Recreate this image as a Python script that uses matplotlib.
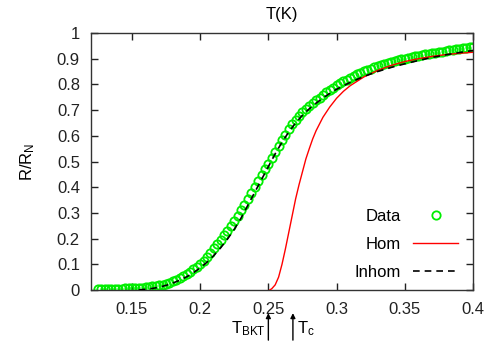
import matplotlib
matplotlib.use("Agg")
import matplotlib.pyplot as plt

plt.rcParams['font.family'] = ['Liberation Sans', 'DejaVu Sans']
plt.rcParams['mathtext.fontset'] = 'custom'
plt.rcParams['mathtext.rm'] = 'Liberation Sans'
plt.rcParams['mathtext.it'] = 'Liberation Sans'

# Data (green circles)
data_T = [0.125, 0.1275, 0.130, 0.1325, 0.135, 0.1375, 0.140, 0.1425, 0.145, 0.1475,
          0.150, 0.1525, 0.155, 0.1575, 0.160, 0.1625, 0.165, 0.1675, 0.170, 0.1725,
          0.175, 0.1775, 0.180, 0.1825, 0.185, 0.1875, 0.190, 0.1925, 0.195, 0.1975,
          0.200, 0.2025, 0.205, 0.2075, 0.210, 0.2125, 0.215, 0.2175, 0.220, 0.2225,
          0.225, 0.2275, 0.230, 0.2325, 0.235, 0.2375, 0.240, 0.2425, 0.245, 0.2475,
          0.250, 0.2525, 0.255, 0.2575, 0.260, 0.2625, 0.265, 0.2675, 0.270, 0.2725,
          0.275, 0.2775, 0.280, 0.2825, 0.285, 0.2875, 0.290, 0.2925, 0.295, 0.2975,
          0.300, 0.3025, 0.305, 0.3075, 0.310, 0.3125, 0.315, 0.3175, 0.320, 0.3225,
          0.325, 0.3275, 0.330, 0.3325, 0.335, 0.3375, 0.340, 0.3425, 0.345, 0.3475,
          0.350, 0.3525, 0.355, 0.3575, 0.360, 0.3625, 0.365, 0.3675, 0.370, 0.3725,
          0.375, 0.3775, 0.380, 0.3825, 0.385, 0.3875, 0.390, 0.3925, 0.395, 0.3975,
          0.400]
data_R = [0.005, 0.005, 0.005, 0.005, 0.005, 0.005, 0.005, 0.005, 0.006, 0.006,
          0.007, 0.007, 0.008, 0.009, 0.010, 0.012, 0.014, 0.016, 0.018, 0.021,
          0.025, 0.029, 0.034, 0.040, 0.047, 0.054, 0.062, 0.071, 0.080, 0.090,
          0.101, 0.114, 0.128, 0.145, 0.163, 0.178, 0.195, 0.213, 0.231, 0.250,
          0.269, 0.289, 0.310, 0.332, 0.354, 0.377, 0.400, 0.423, 0.446, 0.469,
          0.492, 0.515, 0.538, 0.561, 0.583, 0.605, 0.626, 0.645, 0.662, 0.678,
          0.692, 0.705, 0.717, 0.728, 0.739, 0.749, 0.759, 0.769, 0.778, 0.787,
          0.796, 0.804, 0.812, 0.819, 0.826, 0.833, 0.839, 0.845, 0.851, 0.856,
          0.861, 0.866, 0.871, 0.875, 0.879, 0.883, 0.887, 0.891, 0.894, 0.897,
          0.900, 0.903, 0.906, 0.909, 0.912, 0.914, 0.917, 0.919, 0.921, 0.924,
          0.926, 0.928, 0.930, 0.932, 0.934, 0.936, 0.938, 0.940, 0.942, 0.944,
          0.946]

# Homogeneous model (red)
hom_T = [0.251, 0.2525, 0.255, 0.2575, 0.260, 0.2625, 0.265, 0.2675, 0.270, 0.2725,
         0.275, 0.2775, 0.280, 0.2825, 0.285, 0.290, 0.295, 0.300, 0.305, 0.310,
         0.320, 0.330, 0.340, 0.350, 0.360, 0.370, 0.380, 0.390, 0.400]
hom_R = [0.0, 0.005, 0.02, 0.05, 0.10, 0.16, 0.225, 0.29, 0.355, 0.41,
         0.46, 0.51, 0.55, 0.588, 0.62, 0.672, 0.712, 0.746, 0.773, 0.795,
         0.829, 0.854, 0.874, 0.889, 0.900, 0.909, 0.916, 0.921, 0.925]

# Inhomogeneous model (black dashed)
inhom_T = [0.155, 0.160, 0.165, 0.170, 0.175, 0.180, 0.185, 0.190, 0.195, 0.200,
           0.205, 0.210, 0.215, 0.220, 0.225, 0.230, 0.235, 0.240, 0.245, 0.250,
           0.255, 0.260, 0.265, 0.270, 0.275, 0.280, 0.285, 0.290, 0.295, 0.300,
           0.310, 0.320, 0.330, 0.340, 0.350, 0.360, 0.370, 0.380, 0.390, 0.400]
inhom_R = [0.0, 0.003, 0.006, 0.011, 0.018, 0.027, 0.038, 0.051, 0.067, 0.086,
           0.108, 0.134, 0.164, 0.198, 0.236, 0.280, 0.330, 0.380, 0.430, 0.480,
           0.530, 0.575, 0.615, 0.650, 0.680, 0.705, 0.727, 0.747, 0.765, 0.781,
           0.808, 0.831, 0.850, 0.866, 0.880, 0.893, 0.905, 0.915, 0.924, 0.932]

x_ticks = [0.15, 0.2, 0.25, 0.3, 0.35, 0.4]
x_ticklabels = ["0.15", "0.2", "0.25", "0.3", "0.35", "0.4"]
y_ticks = [0, 0.1, 0.2, 0.3, 0.4, 0.5, 0.6, 0.7, 0.8, 0.9, 1]
y_ticklabels = ["0", "0.1", "0.2", "0.3", "0.4", "0.5", "0.6", "0.7", "0.8", "0.9", "1"]
T_BKT = 0.25
T_c = 0.268

fig = plt.figure(figsize=(4.88, 3.43), dpi=100)
ax = fig.add_axes([91/488, 1-290/343, 382/488, 257/343])

green = '#00ee00'
ax.plot(data_T, data_R, linestyle='none', marker='o', markersize=6,
        markerfacecolor='none', markeredgecolor=green, markeredgewidth=1.3,
        label='Data', zorder=2)
ax.plot(hom_T, hom_R, color='#ff0000', lw=1.0, label='Hom', zorder=3)
ax.plot(inhom_T, inhom_R, color='black', lw=1.2, linestyle=(0, (4, 3)),
        label='Inhom', zorder=4)

ax.set_xlim(0.12, 0.4)
ax.set_ylim(0, 1)
ax.set_xticks(x_ticks)
ax.set_xticklabels(x_ticklabels)
ax.set_yticks(y_ticks)
ax.set_yticklabels(y_ticklabels)
ax.tick_params(direction='in', length=5, width=1, top=True, right=True,
               labelsize=12, colors='#222222')
ax.tick_params(axis='x', pad=9)
ax.tick_params(axis='y', pad=8)
for s in ax.spines.values():
    s.set_linewidth(1.0)
    s.set_color('#333333')

ax.set_title('T(K)', fontsize=12, pad=10)
ax.set_ylabel('R/R$_\\mathrm{N}$', fontsize=12, labelpad=14)

leg = ax.legend(loc='lower right', bbox_to_anchor=((458-91)/382, (290-280)/257),
                frameon=False, markerfirst=False, fontsize=12, handlelength=2.7,
                handletextpad=0.7, labelspacing=0.78, borderpad=0, borderaxespad=0,
                numpoints=1)

# arrows for T_BKT and T_c
for tv in (T_BKT, T_c):
    ax.annotate('', xy=(tv, -0.09), xytext=(tv, -0.195), xycoords='data',
                textcoords='data', annotation_clip=False,
                arrowprops=dict(arrowstyle='-|>', color='black', lw=1.0,
                                mutation_scale=7, shrinkA=0, shrinkB=0))
ax.text(T_BKT - 0.002, -0.15, 'T$_\\mathrm{BKT}$', ha='right', va='center',
        fontsize=12, clip_on=False)
ax.text(T_c + 0.003, -0.15, 'T$_\\mathrm{c}$', ha='left', va='center',
        fontsize=12, clip_on=False)

fig.savefig('out.png', dpi=100)
